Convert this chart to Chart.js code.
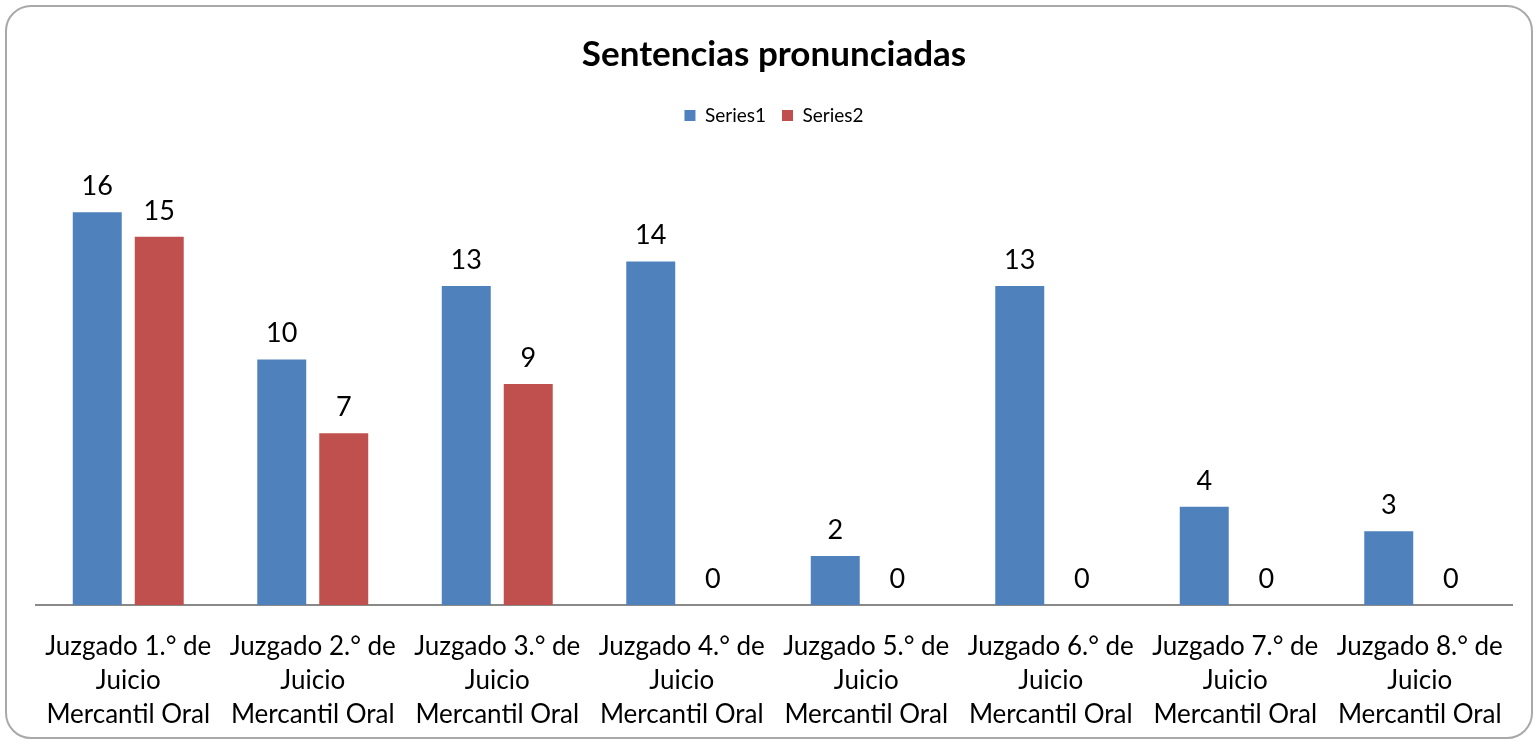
<!DOCTYPE html>
<html>
<head>
<meta charset="utf-8">
<script src="https://cdn.jsdelivr.net/npm/chart.js@4/dist/chart.umd.min.js"></script>
<style>
  html, body { margin: 0; padding: 0; background: #fff; }
  #marco {
    position: absolute; left: 5px; top: 5px; width: 1524px; height: 730px;
    border: 2px solid #a9a9a9; border-radius: 26px; overflow: hidden;
  }
  #grafico { position: absolute; left: -7px; top: -7px; }
</style>
</head>
<body>
<div id="marco"><canvas id="grafico" width="1538" height="744"></canvas></div>
<script>
// Datos del gráfico
const juzgados = [
    ["Juzgado 1.° de", "Juicio", "Mercantil Oral"],
    ["Juzgado 2.° de", "Juicio", "Mercantil Oral"],
    ["Juzgado 3.° de", "Juicio", "Mercantil Oral"],
    ["Juzgado 4.° de", "Juicio", "Mercantil Oral"],
    ["Juzgado 5.° de", "Juicio", "Mercantil Oral"],
    ["Juzgado 6.° de", "Juicio", "Mercantil Oral"],
    ["Juzgado 7.° de", "Juicio", "Mercantil Oral"],
    ["Juzgado 8.° de", "Juicio", "Mercantil Oral"]
];
const series1 = [16, 10, 13, 14, 2, 13, 4, 3];
const series2 = [15, 7, 9, 0, 0, 0, 0, 0];

const fuente = "Lato, 'Open Sans', sans-serif";

// Etiquetas de valor encima de las barras
const etiquetasValor = {
    id: 'etiquetasValor',
    afterDatasetsDraw(chart) {
        const ctx = chart.ctx;
        ctx.save();
        ctx.font = "27px " + fuente;
        ctx.fillStyle = "#000";
        ctx.textAlign = "center";
        ctx.textBaseline = "middle";
        chart.data.datasets.forEach((ds, i) => {
            chart.getDatasetMeta(i).data.forEach((barra, j) => {
                ctx.fillText(ds.data[j], barra.x, barra.y - 26);
            });
        });
        ctx.restore();
    }
};

const ctx = document.getElementById('grafico').getContext('2d');
new Chart(ctx, {
    type: 'bar',
    data: {
        labels: juzgados,
        datasets: [
            { label: 'Series1', data: series1, backgroundColor: '#4f81bd' },
            { label: 'Series2', data: series2, backgroundColor: '#c0504d' }
        ]
    },
    options: {
        responsive: false,
        animation: false,
        layout: { padding: { left: 36, right: 26, top: 0, bottom: 0 } },
        datasets: { bar: { categoryPercentage: 0.672, barPercentage: 0.79 } },
        scales: {
            x: {
                grid: { display: false },
                border: { display: true, color: '#898989', width: 2 },
                ticks: {
                    color: '#000',
                    font: { family: fuente, size: 26, lineHeight: 1.3 },
                    maxRotation: 0, autoSkip: false, padding: 17
                },
                afterFit(scale) { scale.height = 139; }
            },
            y: { display: false, min: 0, max: 19.15 }
        },
        plugins: {
            title: {
                display: true,
                text: 'Sentencias pronunciadas',
                color: '#000',
                font: { family: fuente, size: 35, weight: 'bold' },
                padding: { top: 34, bottom: 14 }
            },
            legend: {
                position: 'top',
                labels: {
                    color: '#000',
                    font: { family: fuente, size: 19 },
                    boxWidth: 11, boxHeight: 11, padding: 16
                }
            },
            tooltip: { enabled: false }
        }
    },
    plugins: [etiquetasValor]
});
</script>
</body>
</html>
